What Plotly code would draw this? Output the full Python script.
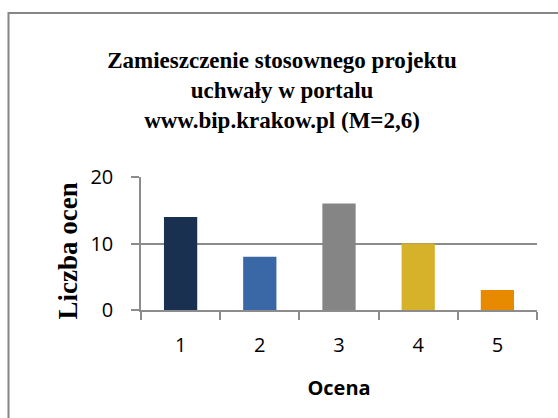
import plotly.graph_objects as go

categories = ["1", "2", "3", "4", "5"]
values = [14, 8, 16, 10, 3]
bar_colors = ["#1a3050", "#3a68a6", "#858585", "#d6b22a", "#e88a00"]
y_ticks = [0, 10, 20]

title_text = "Zamieszczenie stosownego projektu<br>uchwały w portalu<br>www.bip.krakow.pl (M=2,6)"
x_title = "Ocena"
y_title = "Liczba ocen"

W, H = 558, 418
ml, mr, mt, mb = 141, 21, 177, 108
pw, ph = W - ml - mr, H - mt - mb

fig = go.Figure(go.Bar(
    x=categories, y=values,
    marker=dict(color=bar_colors, line=dict(width=0)),
    width=0.42,
))

def px_x(p):
    return (p - ml) / pw

def px_y(p):
    return (H - mb - p) / ph

grid_col = "#8c8c8c"
fig.update_layout(
    width=W, height=H,
    margin=dict(l=ml, r=mr, t=mt, b=mb, autoexpand=False),
    paper_bgcolor="white", plot_bgcolor="white",
    showlegend=False,
    title=dict(
        text=title_text,
        font=dict(family="Liberation Serif", size=23, color="black", weight="bold"),
        x=282 / W, xanchor="center", y=1 - 68 / H, yanchor="top",
    ),
    xaxis=dict(
        type="category",
        showgrid=False,
        showline=True, linecolor=grid_col, linewidth=1.5,
        ticks="outside", tickson="boundaries", ticklen=8, tickcolor=grid_col, tickwidth=1.5,
        tickfont=dict(family="Open Sans", size=20, color="black"),
        ticklabelstandoff=16,
        title=dict(text=x_title, standoff=24,
                   font=dict(family="Open Sans", size=20, color="black", weight="bold")),
        automargin=False,
    ),
    yaxis=dict(
        range=[0, 20], tickvals=y_ticks,
        showgrid=True, gridcolor=grid_col, gridwidth=1.5,
        zeroline=False,
        showline=True, linecolor=grid_col, linewidth=1.5,
        ticks="outside", ticklen=8, tickcolor=grid_col, tickwidth=1.5,
        tickfont=dict(family="Open Sans", size=20, color="black"),
        ticklabelstandoff=14,
        automargin=False,
    ),
    annotations=[dict(
        text=y_title, textangle=-90, showarrow=False,
        xref="paper", yref="paper", x=px_x(67), y=px_y(251.5),
        xanchor="center", yanchor="middle",
        font=dict(family="Liberation Serif", size=27, color="black", weight="bold"),
    )],
    shapes=[dict(
        type="rect", xref="paper", yref="paper",
        x0=px_x(8.5), x1=px_x(W + 5), y0=px_y(H + 5), y1=px_y(13),
        line=dict(color="#868686", width=2), fillcolor="rgba(0,0,0,0)", layer="below",
    )],
)

fig.write_html("out.html", config={"displayModeBar": False},
               post_script="document.body.style.margin='0';")
